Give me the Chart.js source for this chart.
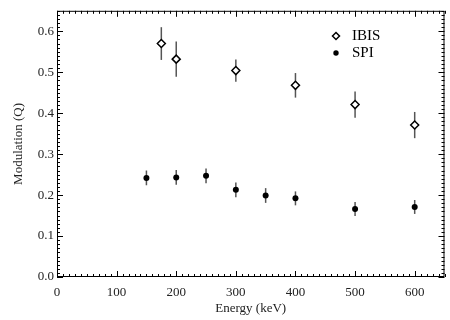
<!DOCTYPE html>
<html>
<head>
<meta charset="utf-8">
<script src="https://cdn.jsdelivr.net/npm/chart.js@4.4.0/dist/chart.umd.min.js"></script>
<style>
  html, body { margin: 0; padding: 0; background: #fff; }
  #wrap { width: 450px; height: 320px; }
</style>
</head>
<body>
<div id="wrap"><canvas id="myChart" width="450" height="320"></canvas></div>
<script>
// IBIS values
const ibisEnergy = [175, 200, 300, 400, 500, 600];
const ibisQ = [0.570, 0.532, 0.504, 0.468, 0.421, 0.371];
const ibisErr = [0.040, 0.043, 0.027, 0.030, 0.032, 0.032];

// SPI values
const spiEnergy = [150, 200, 250, 300, 350, 400, 500, 600];
const spiQ = [0.242, 0.243, 0.247, 0.213, 0.199, 0.192, 0.166, 0.171];
const spiErr = [0.018, 0.018, 0.018, 0.018, 0.018, 0.017, 0.017, 0.017];

const xTicks = [0, 100, 200, 300, 400, 500, 600];
const yTicks = [0.0, 0.1, 0.2, 0.3, 0.4, 0.5, 0.6];

const serif = "'Liberation Serif', 'DejaVu Serif', serif";

// error bars under the markers
const errorBars = {
     id: "errorBars",
     beforeDatasetsDraw(chart) {
          const ctx = chart.ctx;
          const xs = chart.scales.x, ys = chart.scales.y;
          ctx.save();
          ctx.strokeStyle = "#555";
          ctx.lineWidth = 1.5;
          chart.data.datasets.forEach(ds => {
               ds.data.forEach(p => {
                    const px = xs.getPixelForValue(p.x);
                    ctx.beginPath();
                    ctx.moveTo(px, ys.getPixelForValue(p.y - p.err));
                    ctx.lineTo(px, ys.getPixelForValue(p.y + p.err));
                    ctx.stroke();
               });
          });
          ctx.restore();
     }
};

// frame, inward ticks on all sides, legend
const frame = {
     id: "frame",
     afterDraw(chart) {
          const ctx = chart.ctx;
          const a = chart.chartArea;
          const xs = chart.scales.x, ys = chart.scales.y;
          ctx.save();
          ctx.strokeStyle = "#000";
          ctx.lineWidth = 1;
          ctx.strokeRect(a.left + 0.5, a.top + 0.5, a.right - a.left - 1, a.bottom - a.top - 1);
          ctx.beginPath();
          for (let v = 0; v <= 650; v += 10) {
               const px = Math.round(xs.getPixelForValue(v)) + 0.5;
               const len = v % 100 === 0 ? 6 : 3;
               ctx.moveTo(px, a.bottom); ctx.lineTo(px, a.bottom - len);
               ctx.moveTo(px, a.top); ctx.lineTo(px, a.top + len);
          }
          for (let i = 0; i <= 65; i++) {
               const py = Math.round(ys.getPixelForValue(i / 100)) + 0.5;
               const len = i % 10 === 0 ? 6 : 3;
               ctx.moveTo(a.left, py); ctx.lineTo(a.left + len, py);
               ctx.moveTo(a.right, py); ctx.lineTo(a.right - len, py);
          }
          ctx.stroke();

          // legend
          ctx.font = "15px " + serif;
          ctx.fillStyle = "#000";
          ctx.textBaseline = "middle";
          ctx.lineWidth = 1.5;
          ctx.beginPath();
          ctx.moveTo(336, 32.5); ctx.lineTo(339.5, 36); ctx.lineTo(336, 39.5); ctx.lineTo(332.5, 36); ctx.closePath();
          ctx.fillStyle = "#fff"; ctx.fill(); ctx.stroke();
          ctx.fillStyle = "#000";
          ctx.beginPath(); ctx.arc(336, 53, 2.7, 0, Math.PI * 2); ctx.fill();
          ctx.fillText("IBIS", 352, 36);
          ctx.fillText("SPI", 352, 53);
          ctx.restore();
     }
};

const data = {
     datasets: [
          {
               label: "IBIS",
               data: ibisEnergy.map((e, i) => ({ x: e, y: ibisQ[i], err: ibisErr[i] })),
               pointStyle: "rectRot",
               pointRadius: 4,
               pointBackgroundColor: "#fff",
               pointBorderColor: "#000",
               pointBorderWidth: 1.5,
               showLine: false
          },
          {
               label: "SPI",
               data: spiEnergy.map((e, i) => ({ x: e, y: spiQ[i], err: spiErr[i] })),
               pointStyle: "circle",
               pointRadius: 3,
               pointBackgroundColor: "#000",
               pointBorderColor: "#000",
               pointBorderWidth: 0,
               showLine: false
          }
     ]
};

const config = {
     type: "scatter",
     data: data,
     options: {
          responsive: false,
          animation: false,
          layout: { padding: { left: 0, right: 4, top: 3, bottom: 0 } },
          plugins: { legend: { display: false }, tooltip: { enabled: false } },
          scales: {
               x: {
                    type: "linear",
                    min: 0, max: 650,
                    grid: { display: false, drawTicks: false },
                    border: { display: false },
                    afterBuildTicks: s => { s.ticks = xTicks.map(v => ({ value: v })); },
                    afterFit: s => { s.height = 43; },
                    ticks: { color: "#222", padding: 8, font: { family: serif, size: 13 }, maxRotation: 0 },
                    title: { display: true, text: "Energy (keV)", color: "#222", font: { family: serif, size: 13 }, padding: { top: 0 } }
               },
               y: {
                    type: "linear",
                    min: 0, max: 0.65,
                    grid: { display: false, drawTicks: false },
                    border: { display: false },
                    afterBuildTicks: s => { s.ticks = yTicks.map(v => ({ value: v })); },
                    afterFit: s => { s.width = 57; },
                    ticks: { color: "#222", padding: 3, font: { family: serif, size: 13 }, callback: v => v.toFixed(1) },
                    title: { display: true, text: "Modulation (Q)", color: "#222", font: { family: serif, size: 13 }, padding: { top: 11, bottom: 2 } }
               }
          }
     },
     plugins: [errorBars, frame]
};

const myChart = new Chart(document.getElementById("myChart"), config);
</script>
</body>
</html>
